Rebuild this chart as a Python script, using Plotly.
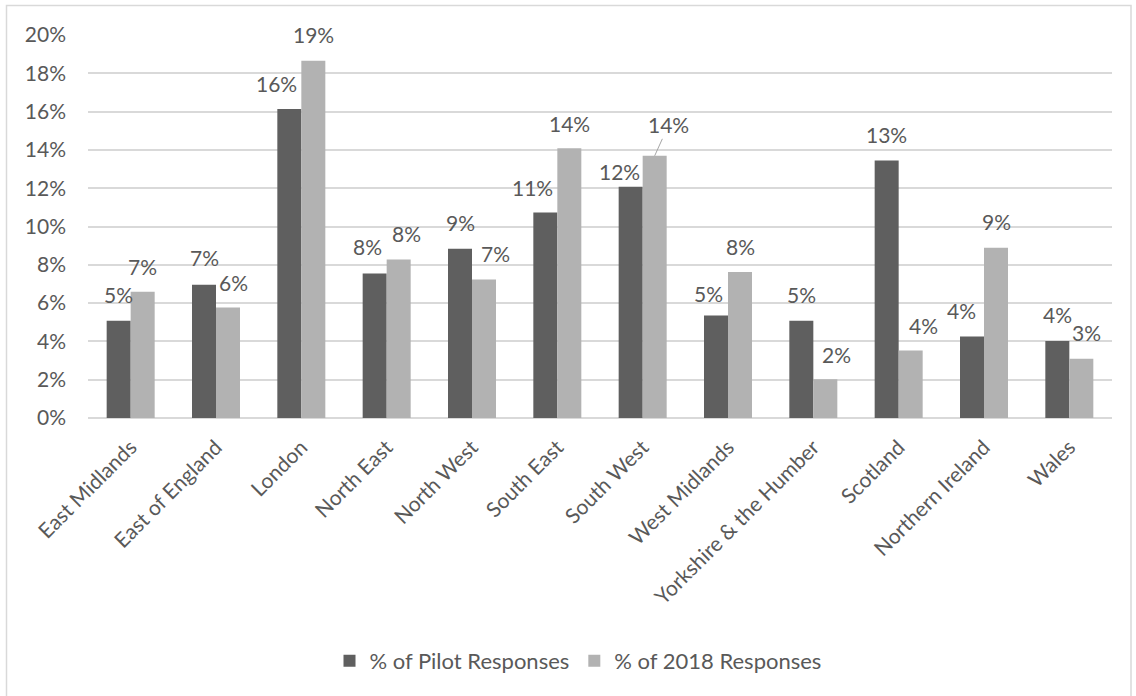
import plotly.graph_objects as go

categories = ["East Midlands", "East of England", "London", "North East", "North West",
              "South East", "South West", "West Midlands", "Yorkshire & the Humber",
              "Scotland", "Northern Ireland", "Wales"]
pilot = [5.08, 6.96, 16.14, 7.55, 8.84, 10.73, 12.07, 5.35, 5.08, 13.45, 4.26, 4.02]
y2018 = [6.59, 5.77, 18.65, 8.28, 7.23, 14.08, 13.69, 7.63, 2.02, 3.52, 8.89, 3.09]
series_names = ["% of Pilot Responses", "% of 2018 Responses"]
y_ticks = [0, 2, 4, 6, 8, 10, 12, 14, 16, 18, 20]

# label nudges (dx, dy in px relative to bar top centre) -- styling only
pilot_nudge = [(0, 26), (0, 27), (-13, 25), (-7, 27), (0, 26), (-13, 25), (-11, 15),
               (-8, 22), (0, 26), (0, 26), (-11, 26), (0, 27)]
y2018_nudge = [(0, 25), (5, 25), (0, 26), (8, 26), (11, 26), (0, 25), (14, 31),
               (0, 25), (11, 25), (13, 25), (0, 26), (5, 26)]

DARK = "#5f5f5f"
LIGHT = "#b2b2b2"
TEXT = "#595959"
GRID = "#d9d9d9"
FONT = "Lato"
FS = 21

W, H = 1136, 696
L, R, T, B = 88, 24, 35, 278
BARGAP = 0.4375
plot_w = W - L - R
plot_h = H - T - B
cat_px = plot_w / len(categories)
bar_px = cat_px * (1 - BARGAP) / 2

fig = go.Figure()
fig.add_trace(go.Bar(x=categories, y=pilot, name=series_names[0], marker_color=DARK,
                     marker_line_width=0))
fig.add_trace(go.Bar(x=categories, y=y2018, name=series_names[1], marker_color=LIGHT,
                     marker_line_width=0))

annotations = []
for vals, nudges, sign in ((pilot, pilot_nudge, -1), (y2018, y2018_nudge, 1)):
    for c, v, (dx, dy) in zip(categories, vals, nudges):
        base_x = sign * bar_px / 2
        txt = f"{round(v):d}%"
        if c == "South West" and sign == 1:
            annotations.append(dict(x=c, y=v, xref="x", yref="y", text=txt,
                                    xshift=base_x, showarrow=True, arrowhead=0,
                                    arrowwidth=1, arrowcolor="#a6a6a6",
                                    ax=dx, ay=-dy, standoff=0, startstandoff=0,
                                    font=dict(family=FONT, size=FS, color=TEXT)))
        else:
            annotations.append(dict(x=c, y=v, xref="x", yref="y", text=txt,
                                    xshift=base_x + dx, yshift=dy, showarrow=False,
                                    yanchor="middle", xanchor="center",
                                    font=dict(family=FONT, size=FS, color=TEXT)))


def px2paper_x(px):
    return (px - L) / plot_w


def px2paper_y(py):
    return (H - B - py) / plot_h


# chart border (top & left visible, extends past right/bottom edges)
shapes = [dict(type="rect", xref="paper", yref="paper",
               x0=px2paper_x(6.5), x1=px2paper_x(1131), y0=px2paper_y(700), y1=px2paper_y(5.5),
               line=dict(color="#d9d9d9", width=1.5), fillcolor="rgba(0,0,0,0)", layer="below")]

fig.update_layout(
    width=W, height=H,
    margin=dict(l=L, r=R, t=T, b=B, autoexpand=False),
    paper_bgcolor="white", plot_bgcolor="white",
    barmode="group", bargap=BARGAP, bargroupgap=0,
    font=dict(family=FONT, size=FS, color=TEXT),
    showlegend=True,
    legend=dict(orientation="h", x=px2paper_x(578), xanchor="center", y=px2paper_y(661),
                yanchor="middle", font=dict(family=FONT, size=22, color=TEXT), itemwidth=30,
                traceorder="normal", bgcolor="rgba(0,0,0,0)"),
    annotations=annotations,
    shapes=shapes,
    xaxis=dict(tickangle=-45, showgrid=False, showline=False, ticks="",
               ticklabelstandoff=12,
               tickfont=dict(family=FONT, size=FS, color=TEXT), fixedrange=True),
    yaxis=dict(range=[0, 20], tickvals=y_ticks, ticktext=[f"{t}%" for t in y_ticks],
               showgrid=True, gridcolor=GRID, gridwidth=1.5, zeroline=True,
               zerolinecolor=GRID, zerolinewidth=1.5, showline=False, ticks="",
               ticklabelstandoff=21,
               tickfont=dict(family=FONT, size=FS, color=TEXT), fixedrange=True),
)

fig.write_html("out.html")
